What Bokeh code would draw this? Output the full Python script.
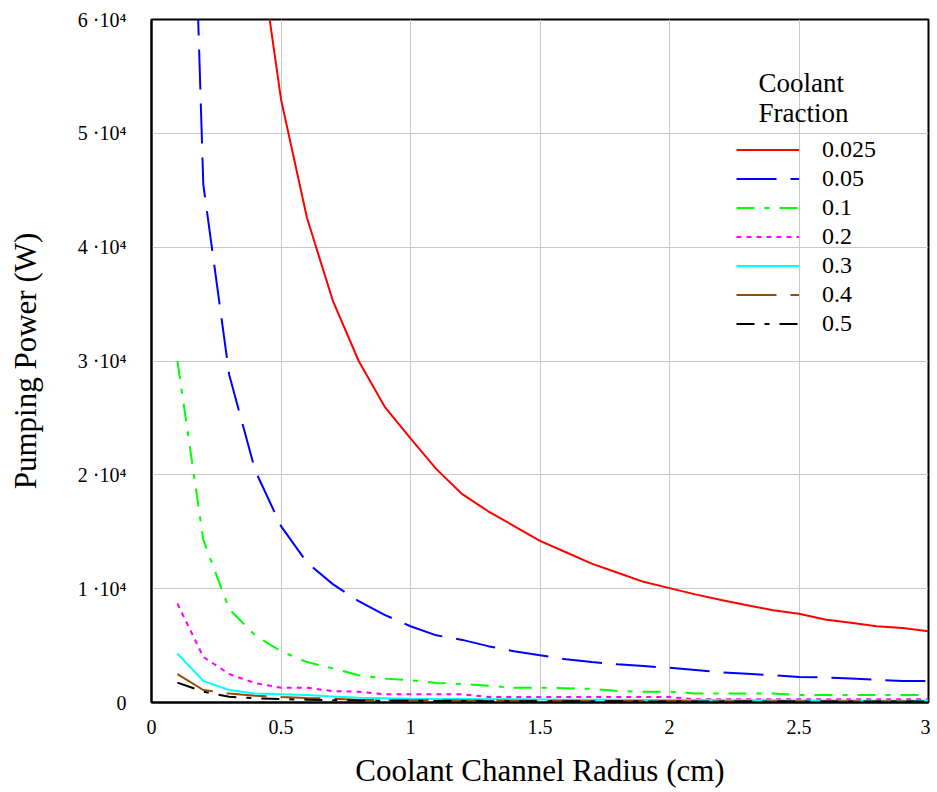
from bokeh.plotting import figure
from bokeh.models import (Range1d, FixedTicker, CustomJSTickFormatter, Legend,
                          LegendItem, Label)
from bokeh.embed import file_html
from bokeh.resources import INLINE

# ---- data -------------------------------------------------------------
radius = [0.1, 0.2, 0.3, 0.4, 0.5, 0.6, 0.7, 0.8, 0.9, 1.0,
          1.1, 1.2, 1.3, 1.4, 1.5, 1.6, 1.7, 1.8, 1.9, 2.0,
          2.1, 2.2, 2.3, 2.4, 2.5, 2.6, 2.7, 2.8, 2.9, 3.0]

radius_red = radius[3:]
power_0025 = [69000, 53000, 42600, 35300, 30000, 26000, 23200, 20500, 18300,
              16800, 15500, 14200, 13200, 12200, 11400, 10600, 10050, 9500,
              9000, 8550, 8100, 7800, 7300, 7000, 6700, 6550, 6250]
power_005 = [119000, 45500, 28800, 20400, 15500, 12300, 10400, 8900, 7700, 6700,
             5900, 5500, 4950, 4500, 4150, 3800, 3550, 3350, 3200, 3050,
             2850, 2650, 2530, 2400, 2250, 2200, 2100, 2000, 1880, 1880]
power_01 = [30000, 14300, 8200, 5900, 4500, 3550, 3000, 2400, 2100, 1950,
            1720, 1620, 1470, 1300, 1300, 1250, 1200, 1000, 950, 950,
            800, 800, 780, 780, 660, 660, 660, 660, 660, 660]
power_02 = [8700, 4000, 2500, 1700, 1300, 1300, 1000, 950, 720, 720,
            720, 720, 480, 480, 480, 480, 480, 480, 480, 480,
            280, 280, 280, 280, 280, 280, 280, 280, 280, 280]
power_03 = [4300, 1900, 1100, 800, 720, 660, 520, 420, 380, 330,
            300, 300, 280, 280, 260, 240, 240, 240, 230, 220,
            210, 200, 200, 190, 180, 170, 170, 160, 160, 150]
power_04 = [2500, 1100, 780, 600, 480, 400, 330, 230, 210, 200,
            190, 180, 170, 160, 150, 150, 140, 140, 130, 130,
            120, 120, 120, 110, 110, 110, 100, 100, 100, 100]
power_05 = [1750, 950, 500, 380, 300, 250, 200, 180, 160, 150,
            140, 130, 120, 120, 110, 110, 100, 100, 100, 90,
            90, 90, 90, 80, 80, 80, 80, 80, 80, 80]

fractions = ["0.025", "0.05", "0.1", "0.2", "0.3", "0.4", "0.5"]

xtick_vals = [0, 0.5, 1, 1.5, 2, 2.5, 3]
xtick_labels = ["0", "0.5", "1", "1.5", "2", "2.5", "3"]
ytick_vals = [0, 10000, 20000, 30000, 40000, 50000, 60000]
ytick_labels = ["0", "1 \u00b710\u2074", "2 \u00b710\u2074", "3 \u00b710\u2074",
                "4 \u00b710\u2074", "5 \u00b710\u2074", "6 \u00b710\u2074"]

FONT = "Liberation Serif"

# ---- figure -----------------------------------------------------------
p = figure(width=930, height=790, output_backend="svg", toolbar_location=None,
           x_range=Range1d(0, 3), y_range=Range1d(0, 60000),
           min_border_left=151, min_border_right=2, min_border_top=19,
           min_border_bottom=88)
p.background_fill_color = "white"
p.border_fill_color = "white"
p.outline_line_color = "black"
p.outline_line_width = 2

p.xaxis.ticker = FixedTicker(ticks=xtick_vals)
p.yaxis.ticker = FixedTicker(ticks=ytick_vals)
p.xgrid.ticker = FixedTicker(ticks=xtick_vals)
p.ygrid.ticker = FixedTicker(ticks=ytick_vals)
p.xaxis.formatter = CustomJSTickFormatter(
    args=dict(vals=xtick_vals, labs=xtick_labels),
    code="for (let i = 0; i < vals.length; i++) { if (Math.abs(vals[i] - tick) < 1e-9) return labs[i]; } return '';")
p.yaxis.formatter = CustomJSTickFormatter(
    args=dict(vals=ytick_vals, labs=ytick_labels),
    code="for (let i = 0; i < vals.length; i++) { if (Math.abs(vals[i] - tick) < 1e-6) return labs[i]; } return '';")

for ax in (p.xaxis[0], p.yaxis[0]):
    ax.axis_line_color = "black"
    ax.axis_line_width = 2
    ax.major_tick_line_color = None
    ax.minor_tick_line_color = None
    ax.major_label_text_font = FONT
    ax.major_label_text_font_size = "20px"
    ax.major_label_text_color = "black"
    ax.axis_label_text_font = FONT
    ax.axis_label_text_font_size = "31px"
    ax.axis_label_text_font_style = "normal"
    ax.axis_label_text_color = "black"

p.xaxis.axis_label = "Coolant Channel Radius (cm)"
p.yaxis.axis_label = "Pumping Power (W)"
p.xaxis.major_label_standoff = 11
p.xaxis.axis_label_standoff = 16
p.yaxis.major_label_standoff = 19
p.yaxis.axis_label_standoff = 32

p.xgrid.grid_line_color = "#c8c8c8"
p.ygrid.grid_line_color = "#c8c8c8"
p.xgrid.grid_line_width = 1
p.ygrid.grid_line_width = 1

# ---- series -----------------------------------------------------------
series = [
    (radius_red, power_0025, "#ff0000", "solid"),
    (radius, power_005, "#0000ff", "40 14"),
    (radius, power_01, "#00ff00", "18 10 5 10"),
    (radius, power_02, "#ff00ff", "5 5"),
    (radius, power_03, "#00ffff", "solid"),
    (radius, power_04, "#964b00", "40 14"),
    (radius, power_05, "#000000", "18 10 5 10"),
]

items = []
for (xs, ys, color, dash), lab in zip(series, fractions):
    r = p.line(xs, ys, line_color=color, line_width=2, line_dash=dash)
    items.append(LegendItem(label=lab, renderers=[r]))

legend = Legend(items=items, location=(585, 364), padding=0, margin=0,
                spacing=0, glyph_width=63, glyph_height=29, label_height=29,
                label_standoff=23, label_text_font=FONT,
                label_text_font_size="24px", label_text_color="black",
                border_line_color=None, background_fill_alpha=0)
p.add_layout(legend)

for txt, yy in (("Coolant", 620), ("Fraction", 590)):
    p.add_layout(Label(x=607, y=yy, x_units="screen", y_units="screen",
                       text=txt, text_font=FONT, text_font_size="27px",
                       text_color="black", text_baseline="alphabetic"))

open("out.html", "w").write(file_html(p, INLINE))
